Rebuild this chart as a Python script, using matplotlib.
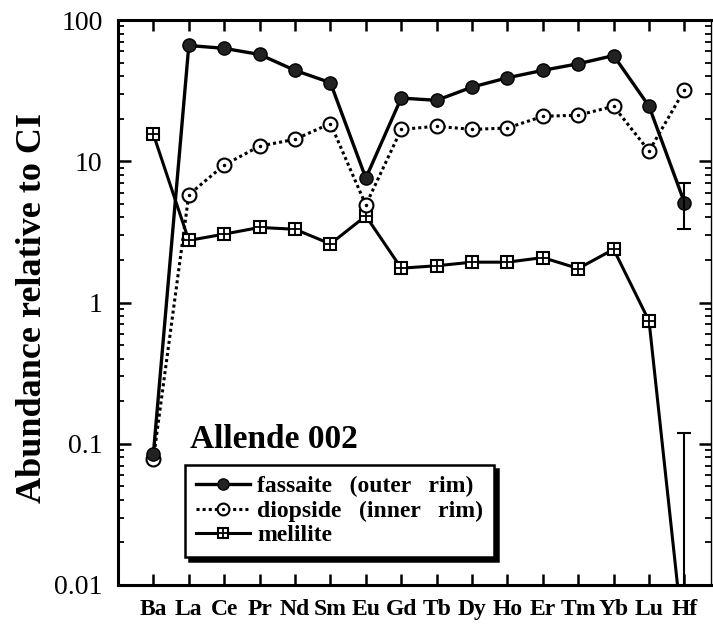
import matplotlib
matplotlib.use("Agg")
import matplotlib.pyplot as plt
from matplotlib.ticker import LogLocator, NullFormatter, FixedLocator
from matplotlib.legend_handler import HandlerTuple
import numpy as np

elements = ["Ba", "La", "Ce", "Pr", "Nd", "Sm", "Eu", "Gd", "Tb", "Dy", "Ho", "Er", "Tm", "Yb", "Lu", "Hf"]
fassaite = [0.085, 66, 63, 57, 44, 36, 7.6, 28, 27, 33.5, 39, 44, 49, 56, 24.5, 5.1]
diopside = [0.078, 5.8, 9.4, 12.8, 14.3, 18.5, 4.9, 16.8, 17.7, 16.8, 17.2, 20.8, 21.2, 24.5, 11.8, 32]
melilite = [15.5, 2.75, 3.05, 3.4, 3.3, 2.6, 4.1, 1.75, 1.82, 1.93, 1.93, 2.08, 1.74, 2.38, 0.74, 0.0035]
fass_hf_err = (3.3, 7.0)
meli_hf_err_top = 0.12

plt.rcParams['font.family'] = ['Liberation Serif', 'DejaVu Serif']

fig = plt.figure(figsize=(7.13, 6.29), dpi=100)
ax = fig.add_axes([118/713, 1 - 585/629, 593/713, 565/629])

x = np.arange(len(elements))

l1, = ax.plot(x, fassaite, color='black', lw=2.4, marker='o', ms=9.5,
              mfc='#222222', mec='black', zorder=4)
l2, = ax.plot(x, diopside, color='black', lw=2.2, ls=(0, (1, 1)), marker='o', ms=10,
              mfc='white', mec='black', mew=1.5, zorder=3)
l2b, = ax.plot(x, diopside, ls='none', marker='.', ms=3, color='black', zorder=3.5)
l3, = ax.plot(x, melilite, color='black', lw=2.2, marker='s', ms=9,
              mfc='white', mec='black', mew=1.5, zorder=2)
l3b, = ax.plot(x, melilite, ls='none', marker='+', ms=9, mew=1.3, color='black', zorder=2.5)

# error bars at Hf
ax.errorbar([x[-1]], [fassaite[-1]],
            yerr=[[fassaite[-1] - fass_hf_err[0]], [fass_hf_err[1] - fassaite[-1]]],
            fmt='none', ecolor='black', elinewidth=1.5, capsize=5, capthick=1.5, zorder=5)
ax.errorbar([x[-1]], [melilite[-1]],
            yerr=[[0], [meli_hf_err_top - melilite[-1]]],
            fmt='none', ecolor='black', elinewidth=1.5, capsize=5, capthick=1.5, zorder=5)

ax.set_yscale('log')
ax.set_ylim(0.01, 100)
ax.set_xlim(-1, 15.75)

ax.set_xticks(x)
ax.set_xticklabels(elements, fontsize=17, fontweight='bold')
ax.tick_params(axis='x', which='major', direction='in', length=8, width=1.8,
               top=True, bottom=True, pad=10)
ax.yaxis.set_major_locator(FixedLocator([0.01, 0.1, 1, 10, 100]))
ax.yaxis.set_minor_locator(LogLocator(base=10, subs=np.arange(2, 10)))
ax.yaxis.set_minor_formatter(NullFormatter())
ax.set_yticklabels(['0.01', '0.1', '1', '10', '100'])
ax.tick_params(axis='y', which='major', direction='in', length=9, width=1.8,
               left=True, right=True, labelsize=20, pad=11)
ax.tick_params(axis='y', which='minor', direction='in', length=4.5, width=1.3,
               left=True, right=True)

for s in ax.spines.values():
    s.set_linewidth(2.2)
ax.spines['right'].set_linewidth(1.0)

ax.set_ylabel('Abundance relative to CI', fontsize=26, fontweight='bold')
ax.yaxis.set_label_coords(-0.116, 0.49)

ax.text(0.121, 0.257, 'Allende 002', transform=ax.transAxes, fontsize=24,
        fontweight='bold', ha='left', va='center')

leg = ax.legend([(l1,), (l2, l2b), (l3, l3b)],
                ['fassaite   (outer   rim)', 'diopside   (inner   rim)', 'melilite'],
                handler_map={tuple: HandlerTuple(ndivide=1)},
                loc='lower left', bbox_to_anchor=(0.113, 0.05), borderaxespad=0,
                prop={'weight': 'bold', 'size': 17},
                frameon=True, fancybox=False, edgecolor='black',
                shadow={'color': 'black', 'alpha': 1, 'ox': 3, 'oy': -3},
                handlelength=2.3, handletextpad=0.3, labelspacing=0.12,
                borderpad=0.45, markerscale=0.85)
leg.get_frame().set_linewidth(1.8)

fig.savefig('out.png', dpi=100)
